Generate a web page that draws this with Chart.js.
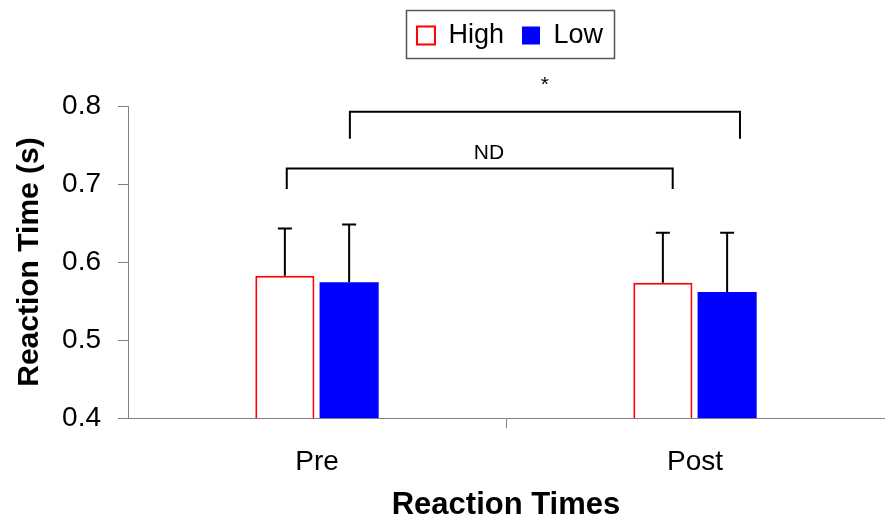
<!DOCTYPE html>
<html>
<head>
<meta charset="utf-8">
<script src="https://cdn.jsdelivr.net/npm/chart.js@4/dist/chart.umd.min.js"></script>
<style>
  html, body { margin: 0; padding: 0; background: #fff; overflow: hidden; }
</style>
</head>
<body>
<canvas id="rtChart" width="888" height="524"></canvas>
<script>
const categories = ["Pre", "Post"];
const highValues = [0.5825, 0.5735];
const lowValues = [0.574, 0.5615];
const highErr = [0.0605, 0.064];
const lowErr = [0.074, 0.076];

// significance brackets, positions given in category index units
const bracketLabels = ["ND", "*"];
const bracketStart = [-0.08, 0.087];
const bracketEnd = [0.941, 1.119];
const bracketLevel = [0.72, 0.7925];
const bracketFoot = [0.6935, 0.758];
const bracketTextX = [0.455, 0.603];
const bracketTextY = [0.74, 0.827];

const FONT = "'Liberation Sans', Arial, sans-serif";

const errorBars = {
  id: "errorBars",
  afterDatasetsDraw(chart) {
    const ctx = chart.ctx;
    const y = chart.scales.y;
    const errs = [highErr, lowErr];
    ctx.save();
    ctx.strokeStyle = "#000";
    ctx.lineWidth = 2;
    chart.data.datasets.forEach((ds, d) => {
      chart.getDatasetMeta(d).data.forEach((bar, i) => {
        const top = y.getPixelForValue(ds.data[i] + errs[d][i]);
        ctx.beginPath();
        ctx.moveTo(bar.x, bar.y);
        ctx.lineTo(bar.x, top);
        ctx.moveTo(bar.x - 7, top);
        ctx.lineTo(bar.x + 7, top);
        ctx.stroke();
      });
    });
    ctx.restore();
  }
};

const brackets = {
  id: "brackets",
  afterDraw(chart) {
    const ctx = chart.ctx;
    const x = chart.scales.x;
    const y = chart.scales.y;
    const x0 = x.getPixelForValue(0);
    const step = x.getPixelForValue(1) - x0;
    ctx.save();
    ctx.strokeStyle = "#000";
    ctx.lineWidth = 2;
    ctx.fillStyle = "#000";
    ctx.textAlign = "center";
    ctx.textBaseline = "middle";
    ctx.font = "21px " + FONT;
    bracketLabels.forEach((lab, i) => {
      const xa = x0 + bracketStart[i] * step;
      const xb = x0 + bracketEnd[i] * step;
      const yl = y.getPixelForValue(bracketLevel[i]);
      const yf = y.getPixelForValue(bracketFoot[i]);
      ctx.beginPath();
      ctx.moveTo(xa, yf);
      ctx.lineTo(xa, yl);
      ctx.lineTo(xb, yl);
      ctx.lineTo(xb, yf);
      ctx.stroke();
      ctx.fillText(lab, x0 + bracketTextX[i] * step, y.getPixelForValue(bracketTextY[i]));
    });

    // frame round the legend
    const boxes = chart.legend.legendHitBoxes;
    if (boxes && boxes.length) {
      const l = Math.min(...boxes.map(b => b.left)) - 11;
      const r = Math.max(...boxes.map(b => b.left + b.width)) + 11;
      const t = Math.min(...boxes.map(b => b.top));
      const bt = Math.max(...boxes.map(b => b.top + b.height));
      const cy = (t + bt) / 2;
      ctx.strokeStyle = "#555";
      ctx.lineWidth = 1.5;
      ctx.strokeRect(Math.round(l) + 0.5, Math.round(cy - 26) + 0.5, Math.round(r - l), 48);
    }
    ctx.restore();
  }
};

const legendPlace = {
  id: "legendPlace",
  beforeInit(chart) {
    const fit = chart.legend.fit;
    chart.legend.fit = function () {
      fit.bind(chart.legend)();
      this.height = 102;
    };
  },
  afterLayout(chart) {
    // centre the legend over the plot area
    chart.legend.left = chart.chartArea.left + 4;
    chart.legend.right = chart.chartArea.right + 4;
  }
};

new Chart(document.getElementById("rtChart"), {
  type: "bar",
  data: {
    labels: categories,
    datasets: [
      {
        label: "High",
        data: highValues,
        backgroundColor: "#ffffff",
        borderColor: "#ff0000",
        borderWidth: 2,
        borderSkipped: false
      },
      {
        label: "Low",
        data: lowValues,
        backgroundColor: "#0000ff",
        borderColor: "#0000ff",
        borderWidth: 0
      }
    ]
  },
  options: {
    responsive: false,
    animation: false,
    categoryPercentage: 0.34,
    barPercentage: 0.92,
    layout: { padding: { left: 0, right: 4, top: 4, bottom: 0 } },
    plugins: {
      tooltip: { enabled: false },
      legend: {
        position: "top",
        align: "center",
        labels: {
          color: "#000",
          font: { family: FONT, size: 27 },
          boxWidth: 18,
          boxHeight: 18,
          padding: 18
        }
      }
    },
    scales: {
      x: {
        afterFit: (scale) => { scale.height = 106; },
        grid: {
          drawOnChartArea: false,
          tickLength: 10,
          color: (c) => (c.index === 1 ? "#808080" : "rgba(0,0,0,0)")
        },
        border: { color: "#808080", width: 1 },
        ticks: {
          color: "#000",
          font: { family: FONT, size: 28 },
          padding: 17
        },
        title: {
          display: true,
          text: "Reaction Times",
          color: "#000",
          font: { family: FONT, size: 31, weight: "bold" },
          padding: { top: 0, bottom: 0 }
        }
      },
      y: {
        min: 0.4,
        max: 0.8,
        afterFit: (scale) => { scale.width = 128; },
        ticks: {
          stepSize: 0.1,
          color: "#000",
          font: { family: FONT, size: 28 },
          padding: 17,
          callback: (v) => v.toFixed(1)
        },
        grid: {
          drawOnChartArea: false,
          tickLength: 10,
          color: "#808080"
        },
        border: { color: "#808080", width: 1 },
        title: {
          display: true,
          text: "Reaction Time (s)",
          color: "#000",
          font: { family: FONT, size: 30, weight: "bold" },
          padding: { top: 12, bottom: 0 }
        }
      }
    }
  },
  plugins: [legendPlace, errorBars, brackets]
});
</script>
</body>
</html>
